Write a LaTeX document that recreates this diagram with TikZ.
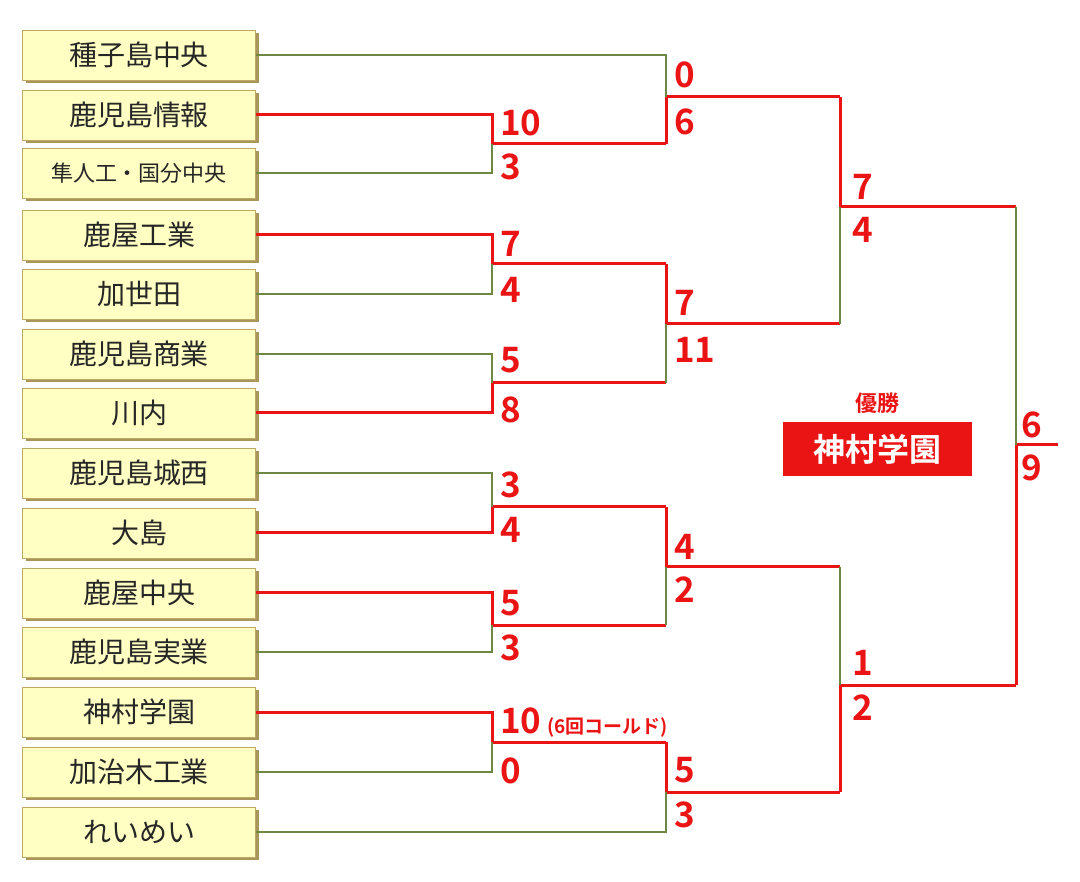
\documentclass[tikz,border=0pt]{standalone}
\usepackage{fontspec}
\newfontfamily\jp{Noto Sans CJK JP}[BoldFont={* Bold}]
\definecolor{win}{RGB}{235,20,20}
\definecolor{lose}{RGB}{110,135,65}
\definecolor{boxfill}{RGB}{255,255,195}
\definecolor{boxline}{RGB}{190,170,100}
\definecolor{shadow}{RGB}{170,150,90}
\usetikzlibrary{shadows}
\tikzset{
 team/.style={draw=boxline,fill=boxfill,minimum width=233pt,minimum height=50pt,inner sep=0pt,font=\jp\fontsize{28}{28}\selectfont,text=black!85,
   drop shadow={shadow xshift=3pt,shadow yshift=-3pt,fill=shadow,opacity=1}},
 w/.style={draw=win,line width=3pt},
 l/.style={draw=lose,line width=2.5pt},
 sc/.style={anchor=west,inner sep=0pt,text=win,font=\jp\bfseries\fontsize{35}{35}\selectfont},
}
\begin{document}
\begin{tikzpicture}[x=1pt,y=-1pt]
\useasboundingbox (0,0) rectangle (1080,882);
\foreach \n/\y/\t in {1/55/種子島中央,2/115/鹿児島情報,4/235/鹿屋工業,5/294/加世田,6/354/鹿児島商業,7/413/川内,8/473/鹿児島城西,9/533/大島,10/593/鹿屋中央,11/652/鹿児島実業,12/712/神村学園,13/772/加治木工業,14/832/れいめい}
  \node[team] (t\n) at (139,\y) {\t};
\node[team,font=\jp\fontsize{22}{22}\selectfont] (t3) at (139,173) {隼人工・国分中央};
\foreach \n/\x/\y in {a/492/144,b/492/264,c/492/383,d/492/507,e/492/625,f/492/742,
  g/666/97,h/666/324,i/666/567,j/666/792,k/840/207,m/840/685,n/1016/445}
  \coordinate (\n) at (\x,\y);
\coordinate (fin) at (1058,445);
% outputs of each match (winner lines, red)
\draw[w] (a) -- (a -| g); \draw[w] (b) -- (b -| h); \draw[w] (c) -- (c -| h);
\draw[w] (d) -- (d -| i); \draw[w] (e) -- (e -| i); \draw[w] (f) -- (f -| j);
\draw[w] (g) -- (g -| k); \draw[w] (h) -- (h -| k);
\draw[w] (i) -- (i -| m); \draw[w] (j) -- (j -| m);
\draw[w] (k) -- (k -| n); \draw[w] (m) -- (m -| n);
\draw[w] (n) -- (fin);
% round 1
\draw[w] (t2.east) -| (a); \draw[l] (t3.east) -| (a);
\draw[w] (t4.east) -| (b); \draw[l] (t5.east) -| (b);
\draw[l] (t6.east) -| (c); \draw[w] (t7.east) -| (c);
\draw[l] (t8.east) -| (d); \draw[w] (t9.east) -| (d);
\draw[w] (t10.east) -| (e); \draw[l] (t11.east) -| (e);
\draw[w] (t12.east) -| (f); \draw[l] (t13.east) -| (f);
% round 2
\draw[l] (t1.east) -| (g); \draw[w] (a -| g) -- (g);
\draw[w] (b -| h) -- (h); \draw[l] (c -| h) -- (h);
\draw[w] (d -| i) -- (i); \draw[l] (e -| i) -- (i);
\draw[w] (f -| j) -- (j); \draw[l] (t14.east) -| (j);
% round 3
\draw[w] (g -| k) -- (k); \draw[l] (h -| k) -- (k);
\draw[l] (i -| m) -- (m); \draw[w] (j -| m) -- (m);
% final
\draw[l] (k -| n) -- (n); \draw[w] (m -| n) -- (n);
% scores
\foreach \x/\y/\s in {500/123/10,500/167/3,500/244/7,500/290/4,500/360/5,500/410/8,500/485/3,500/530/4,500/603/5,500/648/3,500/771/0,
 674/75/0,674/122/6,674/303/7,674/350/11,674/547/4,674/590/2,674/770/5,674/815/3,
 852/187/7,852/230/4,852/663/1,852/708/2,1021/425/6,1021/468/9}
  \node[sc] (s\x-\y) at (\x,\y) {\s};
\node[sc] (s10c) at (500,723) {10\,{\fontsize{19}{19}\selectfont (6回コールド)}};
% winner
\node[text=win,font=\jp\bfseries\fontsize{22}{22}\selectfont] (yu) at (877,403) {優勝};
\node[fill=win,text=white,minimum width=189pt,minimum height=54pt,font=\jp\bfseries\fontsize{32}{32}\selectfont] (champ) at (877,449) {神村学園};
\end{tikzpicture}
\end{document}
